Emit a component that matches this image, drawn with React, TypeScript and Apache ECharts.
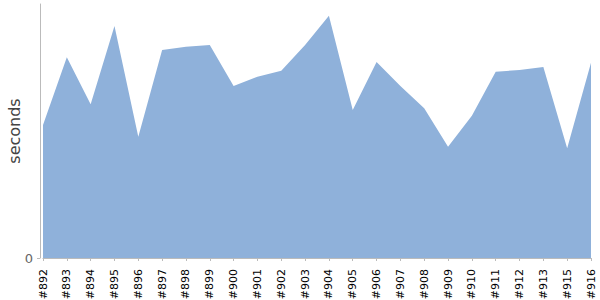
import React, { useEffect, useRef } from "react";
import * as echarts from "echarts";

const categories = ["#892", "#893", "#894", "#895", "#896", "#897", "#898", "#899", "#900", "#901", "#902", "#903", "#904", "#905", "#906", "#907", "#908", "#909", "#910", "#911", "#912", "#913", "#915", "#916"];
const seconds = [133, 200.7, 153.7, 232, 121.3, 208, 211.3, 213, 172, 181.3, 187.3, 213, 242.3, 148, 196, 172, 149.7, 111.3, 142.3, 186.3, 188, 191, 109.7, 195.3];
const yMax = 254;

export default function App() {
  const ref = useRef<HTMLDivElement>(null);
  useEffect(() => {
    const chart = echarts.init(ref.current!, null, { renderer: "svg" });
    chart.setOption({
      animation: false,
      grid: { left: 43, right: 9, top: 4, bottom: 42, containLabel: false, outerBoundsMode: "none" },
      xAxis: {
        type: "category",
        data: categories,
        boundaryGap: false,
        offset: 5,
        axisLine: { lineStyle: { color: "#bbbbbb", width: 1 } },
        axisTick: { show: true, length: 3, alignWithLabel: true, lineStyle: { color: "#bbbbbb" } },
        axisLabel: { rotate: 90, interval: 0, margin: 6, color: "#000", fontSize: 11, fontFamily: "DejaVu Sans" },
        splitLine: { show: false },
      },
      yAxis: {
        type: "value",
        min: 0,
        max: yMax,
        interval: yMax,
        offset: 3,
        name: "seconds",
        nameLocation: "middle",
        nameGap: 18,
        nameMoveOverlap: false,
        nameTextStyle: { color: "#444", fontSize: 16, fontFamily: "DejaVu Sans" },
        axisLine: { show: true, lineStyle: { color: "#bbbbbb", width: 1 } },
        axisTick: { show: true, length: 3, customValues: [0], lineStyle: { color: "#bbbbbb" } },
        axisLabel: { customValues: [0], margin: 7, color: "#666", fontSize: 13, fontFamily: "DejaVu Sans" },
        splitLine: { show: false },
      },
      series: [
        {
          type: "line",
          data: seconds,
          symbol: "none",
          lineStyle: { width: 0 },
          areaStyle: { color: "#8fb1da", opacity: 1 },
        },
      ],
    });
    return () => chart.dispose();
  }, []);
  return <div ref={ref} style={{ width: 600, height: 300, position: "absolute", left: 0, top: 0 }} />;
}
